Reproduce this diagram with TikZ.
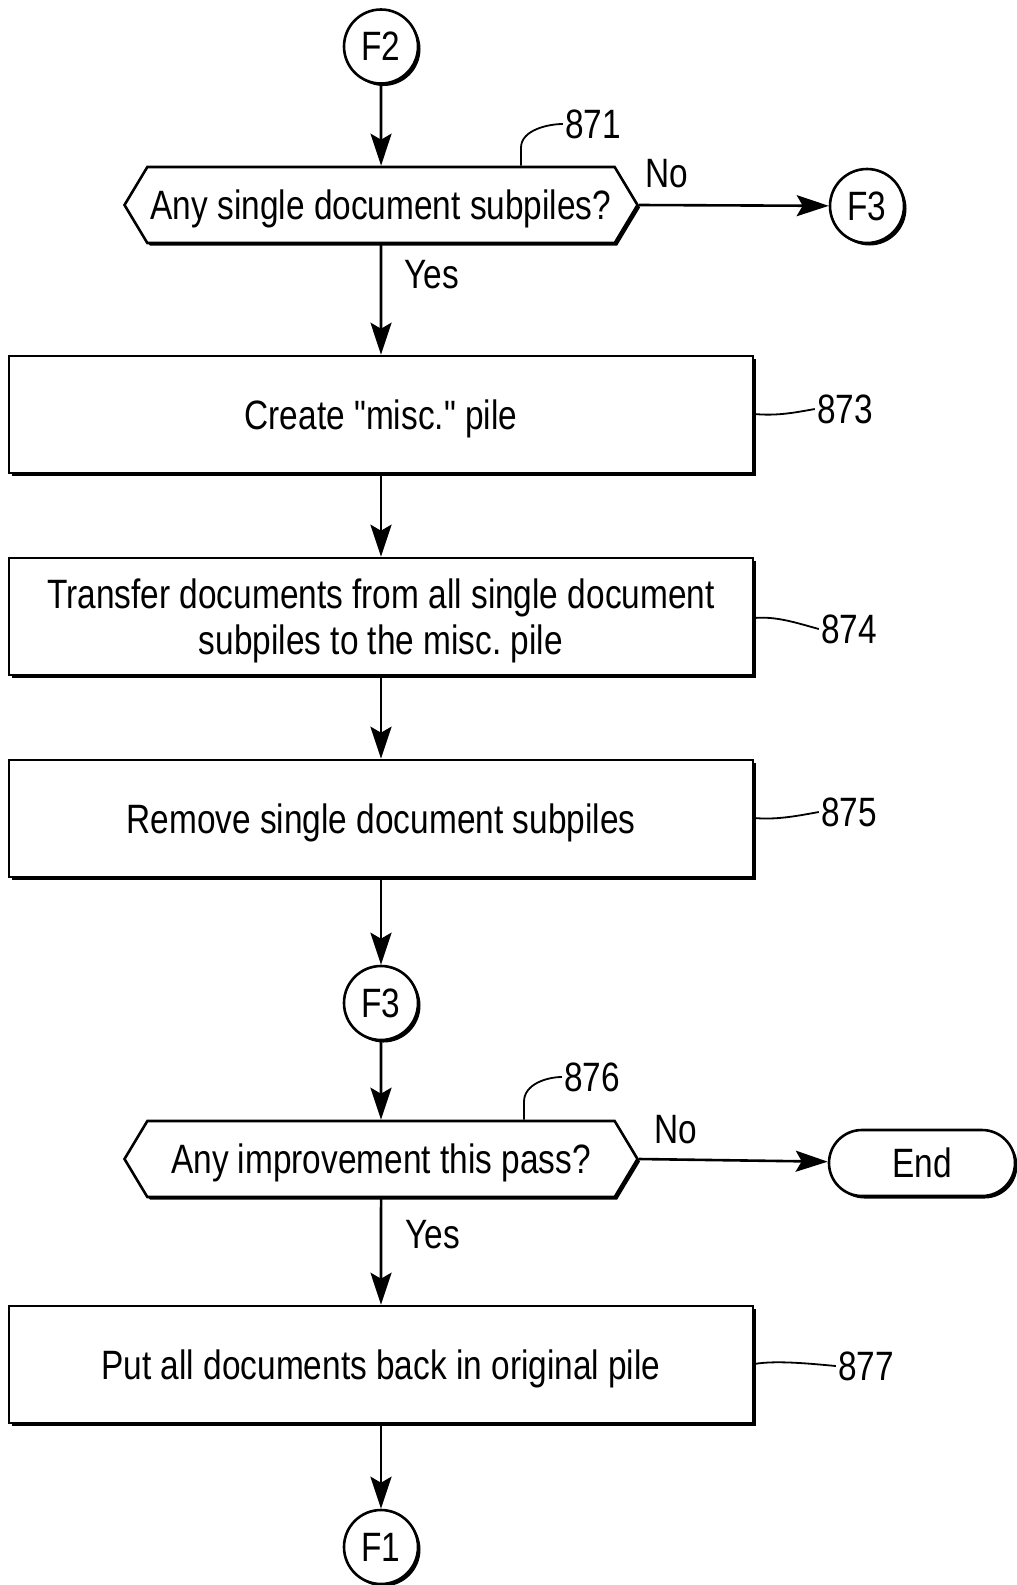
\documentclass[tikz,border=0pt]{standalone}
\usepackage{fontspec}
\newfontfamily\flowfont{Liberation Sans}[FakeStretch=0.815]
\usetikzlibrary{shapes.symbols,shapes.misc,shadows,arrows.meta}
\frenchspacing
\begin{document}
\begin{tikzpicture}[x=1pt,y=-1pt,
  font=\flowfont\fontsize{41}{46}\selectfont,
  line width=2.6pt,
  sh/.style={drop shadow={shadow xshift=2.5pt,shadow yshift=-2.5pt,opacity=1,fill=black}},
  conn/.style={circle,draw,fill=white,minimum size=74pt,inner sep=0pt,text depth=0pt,sh},
  proc/.style={rectangle,draw,fill=white,minimum width=744pt,minimum height=117pt,inner sep=0pt,align=center,text depth=0pt,sh},
  dec/.style={signal,signal to=west and east,signal pointer angle=118,draw,fill=white,minimum width=513pt,minimum height=76pt,inner sep=0pt,text depth=0pt,sh},
  term/.style={rounded rectangle,draw,fill=white,minimum width=186pt,minimum height=66pt,inner sep=0pt,text depth=0pt,sh},
  lbl/.style={inner sep=1pt},
  arr/.style={-{Stealth[length=32pt,width=21pt,inset=6pt]},line width=2.6pt},
  lead/.style={line width=1.8pt}]
\useasboundingbox (0,0) rectangle (1017,1585);
\node[conn] (f2) at (381,46.5) {F2};
\node[dec] (d1) at (381,205) {Any single document subpiles?};
\node[lbl] (l871) at (593,124) {871};
\node[lbl] (no1) at (667,174) {No};
\node[conn] (f3a) at (867,206) {F3};
\node[lbl] (yes1) at (432,275) {Yes};
\node[proc] (b873) at (381,414.5) {Create "misc." pile};
\node[lbl] (l873) at (845,409) {873};
\node[proc] (b874) at (381,616.5) {Transfer documents from all single document\\subpiles to the misc.\ pile};
\node[lbl] (l874) at (849,629) {874};
\node[proc] (b875) at (381,818.5) {Remove single document subpiles};
\node[lbl] (l875) at (849,812) {875};
\node[conn] (f3b) at (381,1003) {F3};
\node[dec] (d2) at (381,1159) {Any improvement this pass?};
\node[lbl] (l876) at (592,1077) {876};
\node[lbl] (no2) at (676,1130) {No};
\node[term] (end) at (922,1163) {End};
\node[lbl] (yes2) at (433,1235) {Yes};
\node[proc] (b877) at (381,1364.5) {Put all documents back in original pile};
\node[lbl] (l877) at (866,1366) {877};
\node[conn] (f1) at (381,1547) {F1};
\draw[arr] (f2) -- (d1);
\draw[arr] (d1.east) -- (f3a);
\draw[arr] (d1) -- (b873);
\draw[arr] (b873) -- (b874);
\draw[arr] (b874) -- (b875);
\draw[arr] (b875) -- (f3b);
\draw[arr] (f3b) -- (d2);
\draw[arr] (d2.east) -- (end);
\draw[arr] (d2) -- (b877);
\draw[arr] (b877) -- (f1);
\draw[lead] (d1.north -| 521,0) -- ++(0,-18) .. controls +(0,-18) and +(-14,0) .. (l871.west);
\draw[lead] (d2.north -| 524,0) -- ++(0,-18) .. controls +(0,-18) and +(-14,0) .. (l876.west);
\draw[lead] (b873.east |- 0,414) .. controls +(22,2) and +(-22,4) .. (l873.west);
\draw[lead] (b874.east |- 0,618) .. controls +(22,-2) and +(-22,-6) .. (l874.west);
\draw[lead] (b875.east |- 0,818) .. controls +(22,2) and +(-22,4) .. (l875.west);
\draw[lead] (b877.east |- 0,1364) .. controls +(22,-4) and +(-22,-2) .. (l877.west);
\end{tikzpicture}
\end{document}
